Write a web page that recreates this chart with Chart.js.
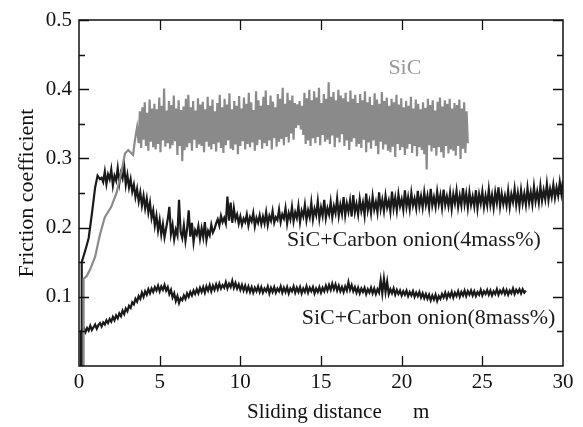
<!DOCTYPE html>
<html>
<head>
<meta charset="utf-8">
<script src="https://cdn.jsdelivr.net/npm/chart.js@4"></script>
<style>
  body { margin: 0; background: #fff; }
  #wrap { width: 583px; height: 427px; }
</style>
</head>
<body>
<div id="wrap"><canvas id="frictionChart" width="583" height="427"></canvas></div>
<script>
// x axis ticks (m) and y axis ticks (friction coefficient)
const xTicks = [0, 5, 10, 15, 20, 25, 30];
const yTicks = [0.1, 0.2, 0.3, 0.4, 0.5];

// --- SiC (grey) ---
// running-in part, read point by point
const sicStartDist = [0.27, 0.27, 0.30, 0.48, 0.70, 1.00, 1.30, 1.60, 2.00, 2.33, 2.65, 2.85, 3.05, 3.35, 3.47, 3.60];
const sicStartMu   = [0.0, 0.124, 0.126, 0.130, 0.140, 0.158, 0.190, 0.215, 0.230, 0.250, 0.283, 0.307, 0.312, 0.305, 0.327, 0.345];
// steady part, read every 0.075 m from 3.7 m
const sicFrom = 3.7, sicStep = 0.075;
const sicMu = [
  0.322, 0.368, 0.315, 0.374, 0.327, 0.381, 0.318, 0.366, 0.311, 0.385, 0.324, 0.372, 0.316,
  0.379, 0.313, 0.371, 0.321, 0.388, 0.309, 0.376, 0.326, 0.401, 0.317, 0.369, 0.322, 0.383,
  0.314, 0.377, 0.319, 0.391, 0.325, 0.372, 0.305, 0.384, 0.318, 0.370, 0.296, 0.375, 0.312,
  0.386, 0.316, 0.392, 0.322, 0.374, 0.311, 0.383, 0.327, 0.369, 0.315, 0.387, 0.320, 0.378,
  0.318, 0.382, 0.309, 0.371, 0.324, 0.389, 0.317, 0.376, 0.313, 0.385, 0.321, 0.368, 0.310,
  0.380, 0.323, 0.392, 0.315, 0.374, 0.308, 0.386, 0.319, 0.378, 0.326, 0.394, 0.314, 0.371,
  0.312, 0.383, 0.320, 0.376, 0.306, 0.390, 0.318, 0.372, 0.325, 0.388, 0.313, 0.379, 0.321,
  0.395, 0.316, 0.381, 0.323, 0.370, 0.311, 0.397, 0.319, 0.384, 0.327, 0.376, 0.314, 0.389,
  0.322, 0.398, 0.318, 0.377, 0.326, 0.391, 0.313, 0.382, 0.329, 0.374, 0.317, 0.393, 0.324,
  0.386, 0.328, 0.402, 0.319, 0.379, 0.331, 0.395, 0.323, 0.384, 0.336, 0.391, 0.327, 0.380,
  0.344, 0.378, 0.348, 0.383, 0.342, 0.376, 0.334, 0.395, 0.321, 0.387, 0.326, 0.399, 0.318,
  0.384, 0.329, 0.397, 0.322, 0.388, 0.331, 0.402, 0.319, 0.380, 0.334, 0.393, 0.324, 0.386,
  0.327, 0.410, 0.321, 0.389, 0.333, 0.396, 0.316, 0.384, 0.330, 0.399, 0.323, 0.391, 0.335,
  0.387, 0.318, 0.395, 0.326, 0.382, 0.312, 0.398, 0.324, 0.386, 0.329, 0.392, 0.317, 0.380,
  0.321, 0.393, 0.315, 0.384, 0.327, 0.397, 0.309, 0.381, 0.323, 0.389, 0.314, 0.377, 0.326,
  0.394, 0.318, 0.385, 0.306, 0.379, 0.324, 0.396, 0.313, 0.383, 0.320, 0.388, 0.311, 0.376,
  0.309, 0.386, 0.317, 0.381, 0.302, 0.392, 0.321, 0.378, 0.312, 0.387, 0.316, 0.374, 0.305,
  0.383, 0.314, 0.376, 0.321, 0.389, 0.308, 0.372, 0.318, 0.385, 0.303, 0.379, 0.316, 0.371,
  0.312, 0.381, 0.306, 0.373, 0.284, 0.386, 0.319, 0.377, 0.310, 0.384, 0.315, 0.369, 0.304,
  0.382, 0.316, 0.388, 0.309, 0.375, 0.301, 0.384, 0.318, 0.379, 0.307, 0.386, 0.313, 0.372,
  0.311, 0.380, 0.304, 0.377, 0.318, 0.385, 0.299, 0.372, 0.314, 0.381, 0.308, 0.368, 0.322
];

// --- SiC + Carbon onion (4 mass%) ---
const c4StartDist = [0.17, 0.17, 0.30, 0.45, 0.60, 0.80, 1.00, 1.15, 1.30];
const c4StartMu   = [0.0, 0.150, 0.160, 0.172, 0.185, 0.220, 0.258, 0.275, 0.270];
// read every 0.1 m from 1.4 m
const c4From = 1.4, c4Step = 0.1;
const c4Mu = [
  0.272, 0.266, 0.281, 0.263, 0.277, 0.270, 0.284, 0.261, 0.275, 0.268,
  0.286, 0.264, 0.279, 0.271, 0.289, 0.262, 0.276, 0.258, 0.270, 0.252,
  0.262, 0.244, 0.256, 0.238, 0.251, 0.232, 0.246, 0.228, 0.242, 0.222,
  0.236, 0.214, 0.225, 0.203, 0.217, 0.196, 0.211, 0.190, 0.205, 0.186,
  0.199, 0.212, 0.230, 0.191, 0.204, 0.183, 0.197, 0.189, 0.240, 0.194,
  0.185, 0.203, 0.181, 0.198, 0.225, 0.187, 0.207, 0.179, 0.196, 0.190,
  0.202, 0.184, 0.199, 0.186, 0.208, 0.182, 0.195, 0.189, 0.204, 0.193,
  0.198, 0.206, 0.212, 0.203, 0.217, 0.208, 0.214, 0.206, 0.245, 0.210,
  0.236, 0.207, 0.228, 0.212, 0.219, 0.206, 0.216, 0.204, 0.213, 0.208,
  0.219, 0.203, 0.215, 0.209, 0.221, 0.202, 0.214, 0.207, 0.218, 0.205,
  0.216, 0.206, 0.222, 0.204, 0.217, 0.210, 0.224, 0.207, 0.215, 0.211,
  0.226, 0.208, 0.219, 0.213, 0.228, 0.206, 0.221, 0.212, 0.230, 0.209,
  0.222, 0.214, 0.231, 0.208, 0.224, 0.216, 0.233, 0.211, 0.225, 0.215,
  0.236, 0.212, 0.227, 0.218, 0.238, 0.213, 0.229, 0.217, 0.240, 0.214,
  0.228, 0.219, 0.237, 0.215, 0.231, 0.221, 0.242, 0.217, 0.233, 0.220,
  0.244, 0.218, 0.235, 0.223, 0.239, 0.216, 0.247, 0.222, 0.234, 0.219,
  0.241, 0.224, 0.236, 0.218, 0.249, 0.225, 0.238, 0.221, 0.245, 0.226,
  0.237, 0.222, 0.251, 0.227, 0.240, 0.224, 0.246, 0.229, 0.239, 0.223,
  0.252, 0.228, 0.243, 0.225, 0.248, 0.231, 0.241, 0.226, 0.254, 0.230,
  0.244, 0.227, 0.250, 0.232, 0.242, 0.228, 0.253, 0.231, 0.245, 0.229,
  0.251, 0.233, 0.246, 0.228, 0.256, 0.232, 0.244, 0.230, 0.252, 0.234,
  0.247, 0.229, 0.255, 0.233, 0.245, 0.231, 0.250, 0.227, 0.248, 0.235,
  0.253, 0.230, 0.246, 0.232, 0.257, 0.234, 0.249, 0.229, 0.251, 0.233,
  0.245, 0.231, 0.254, 0.228, 0.248, 0.235, 0.252, 0.230, 0.246, 0.232,
  0.255, 0.233, 0.247, 0.229, 0.251, 0.236, 0.258, 0.231, 0.249, 0.234,
  0.246, 0.232, 0.253, 0.230, 0.248, 0.237, 0.256, 0.233, 0.250, 0.231,
  0.254, 0.235, 0.249, 0.233, 0.257, 0.236, 0.251, 0.234, 0.259, 0.238,
  0.252, 0.236, 0.260, 0.239, 0.254, 0.241, 0.263, 0.240, 0.256, 0.244,
  0.262, 0.243, 0.258, 0.246, 0.266, 0.249, 0.268
];

// --- SiC + Carbon onion (8 mass%) ---
const c8StartDist = [0.12, 0.12, 0.30];
const c8StartMu   = [0.0, 0.050, 0.055];
// read every 0.1 m from 0.4 m
const c8From = 0.4, c8Step = 0.1;
const c8Mu = [
  0.049, 0.055, 0.051, 0.058, 0.052, 0.056, 0.060, 0.054, 0.059, 0.062,
  0.057, 0.063, 0.060, 0.066, 0.062, 0.068, 0.064, 0.071, 0.066, 0.073,
  0.069, 0.076, 0.072, 0.080, 0.075, 0.083, 0.079, 0.087, 0.084, 0.092,
  0.089, 0.097, 0.093, 0.101, 0.097, 0.106, 0.100, 0.108, 0.103, 0.111,
  0.105, 0.112, 0.107, 0.114, 0.109, 0.116, 0.108, 0.115, 0.110, 0.117,
  0.109, 0.114, 0.104, 0.110, 0.099, 0.105, 0.094, 0.101, 0.091, 0.098,
  0.095, 0.102, 0.097, 0.105, 0.100, 0.107, 0.102, 0.109, 0.104, 0.111,
  0.105, 0.113, 0.107, 0.114, 0.106, 0.115, 0.109, 0.117, 0.108, 0.116,
  0.110, 0.118, 0.111, 0.119, 0.112, 0.117, 0.113, 0.121, 0.112, 0.119,
  0.114, 0.123, 0.113, 0.120, 0.112, 0.118, 0.110, 0.117, 0.109, 0.116,
  0.108, 0.115, 0.107, 0.114, 0.106, 0.113, 0.108, 0.115, 0.107, 0.114,
  0.106, 0.112, 0.108, 0.115, 0.105, 0.113, 0.107, 0.114, 0.106, 0.112,
  0.108, 0.115, 0.106, 0.113, 0.107, 0.114, 0.105, 0.112, 0.108, 0.115,
  0.106, 0.113, 0.107, 0.114, 0.105, 0.112, 0.107, 0.115, 0.106, 0.113,
  0.108, 0.114, 0.105, 0.112, 0.107, 0.114, 0.106, 0.113, 0.108, 0.116,
  0.109, 0.117, 0.110, 0.119, 0.111, 0.118, 0.109, 0.116, 0.108, 0.114,
  0.107, 0.115, 0.109, 0.121, 0.110, 0.117, 0.108, 0.114, 0.106, 0.113,
  0.105, 0.112, 0.107, 0.113, 0.104, 0.111, 0.106, 0.113, 0.105, 0.112,
  0.104, 0.111, 0.106, 0.124, 0.105, 0.126, 0.107, 0.122, 0.104, 0.111,
  0.105, 0.112, 0.103, 0.110, 0.104, 0.109, 0.102, 0.108, 0.103, 0.109,
  0.101, 0.107, 0.102, 0.108, 0.100, 0.106, 0.101, 0.107, 0.099, 0.105,
  0.098, 0.104, 0.097, 0.103, 0.095, 0.102, 0.096, 0.103, 0.094, 0.101,
  0.097, 0.104, 0.099, 0.106, 0.098, 0.105, 0.100, 0.107, 0.099, 0.106,
  0.101, 0.108, 0.100, 0.107, 0.102, 0.109, 0.101, 0.108, 0.103, 0.109,
  0.102, 0.108, 0.101, 0.107, 0.103, 0.110, 0.102, 0.108, 0.104, 0.110,
  0.103, 0.109, 0.102, 0.108, 0.104, 0.111, 0.103, 0.109, 0.105, 0.111,
  0.104, 0.110, 0.103, 0.109, 0.105, 0.112, 0.104, 0.110, 0.106, 0.111,
  0.105, 0.111, 0.106, 0.109
];

// series labels, placed at (distance, mu)
const seriesLabels = [
  { text: 'SiC', x: 20.2, y: 0.430, color: '#999999', align: 'center' },
  { text: 'SiC+Carbon onion(4mass%)', x: 12.9, y: 0.182, color: '#1a1a1a', align: 'left' },
  { text: 'SiC+Carbon onion(8mass%)', x: 13.8, y: 0.069, color: '#1a1a1a', align: 'left' }
];

const FONT = '"Liberation Serif", "Times New Roman", serif';
Chart.defaults.font.family = FONT;

function joinSeries(startDist, startMu, from, step, mu) {
  const pts = startDist.map((d, i) => ({ x: d, y: startMu[i] }));
  mu.forEach((v, i) => pts.push({ x: +(from + i * step).toFixed(3), y: v }));
  return pts;
}

// inward ticks on all four sides, the box, the labels and axis titles
const framePlugin = {
  id: 'frame',
  afterDraw(chart) {
    const { ctx, chartArea: a, scales } = chart;
    const xs = scales.x, ys = scales.y;
    ctx.save();
    ctx.strokeStyle = '#111';
    ctx.lineWidth = 1.5;
    ctx.strokeRect(a.left, a.top, a.right - a.left, a.bottom - a.top);
    ctx.lineWidth = 1.3;
    ctx.beginPath();
    for (let v = 0.05; v < 0.5; v += 0.05) {
      const py = Math.round(ys.getPixelForValue(v)) + 0.5;
      const len = Math.abs(v * 10 - Math.round(v * 10)) < 1e-6 ? 10 : 6;
      ctx.moveTo(a.left, py); ctx.lineTo(a.left + len, py);
      ctx.moveTo(a.right, py); ctx.lineTo(a.right - len, py);
    }
    xTicks.slice(1, -1).forEach(t => {
      const px = Math.round(xs.getPixelForValue(t)) + 0.5;
      ctx.moveTo(px, a.bottom); ctx.lineTo(px, a.bottom - 10);
      ctx.moveTo(px, a.top); ctx.lineTo(px, a.top + 10);
    });
    ctx.stroke();

    ctx.font = '22px ' + FONT;
    ctx.textBaseline = 'middle';
    seriesLabels.forEach(l => {
      ctx.fillStyle = l.color;
      ctx.textAlign = l.align;
      ctx.fillText(l.text, xs.getPixelForValue(l.x), ys.getPixelForValue(l.y));
    });

    ctx.fillStyle = '#111';
    ctx.textAlign = 'left';
    ctx.font = '21px ' + FONT;
    ctx.fillText('Sliding distance', 247, 412);
    ctx.fillText('m', 413, 412);
    ctx.textAlign = 'center';
    ctx.font = '22px ' + FONT;
    ctx.translate(27, 193);
    ctx.rotate(-Math.PI / 2);
    ctx.fillText('Friction coefficient', 0, 0);
    ctx.restore();
  }
};

const lineStyle = { showLine: true, pointRadius: 0, tension: 0, fill: false };

new Chart(document.getElementById('frictionChart'), {
  type: 'scatter',
  data: {
    datasets: [
      Object.assign({ label: 'SiC', data: joinSeries(sicStartDist, sicStartMu, sicFrom, sicStep, sicMu), borderColor: '#8a8a8a', borderWidth: 2.2 }, lineStyle),
      Object.assign({ label: 'SiC+Carbon onion(4mass%)', data: joinSeries(c4StartDist, c4StartMu, c4From, c4Step, c4Mu), borderColor: '#1a1a1a', borderWidth: 2.2 }, lineStyle),
      Object.assign({ label: 'SiC+Carbon onion(8mass%)', data: joinSeries(c8StartDist, c8StartMu, c8From, c8Step, c8Mu), borderColor: '#1a1a1a', borderWidth: 2.2 }, lineStyle)
    ]
  },
  options: {
    responsive: false,
    animation: false,
    layout: { padding: { left: 0, top: 20, right: 20, bottom: 0 } },
    plugins: { legend: { display: false }, tooltip: { enabled: false } },
    scales: {
      x: {
        type: 'linear',
        min: 0, max: 30,
        afterBuildTicks(scale) { scale.ticks = xTicks.map(v => ({ value: v })); },
        afterFit(scale) { scale.height = 61; },
        grid: { display: false },
        border: { display: false },
        ticks: { color: '#111', padding: -4, font: { family: FONT, size: 21 } }
      },
      y: {
        min: 0, max: 0.5,
        afterBuildTicks(scale) { scale.ticks = yTicks.map(v => ({ value: v })); },
        afterFit(scale) { scale.width = 79; },
        grid: { display: false },
        border: { display: false },
        ticks: { color: '#111', padding: -1, font: { family: FONT, size: 21 }, callback: v => v.toFixed(1) }
      }
    }
  },
  plugins: [framePlugin]
});
</script>
</body>
</html>
